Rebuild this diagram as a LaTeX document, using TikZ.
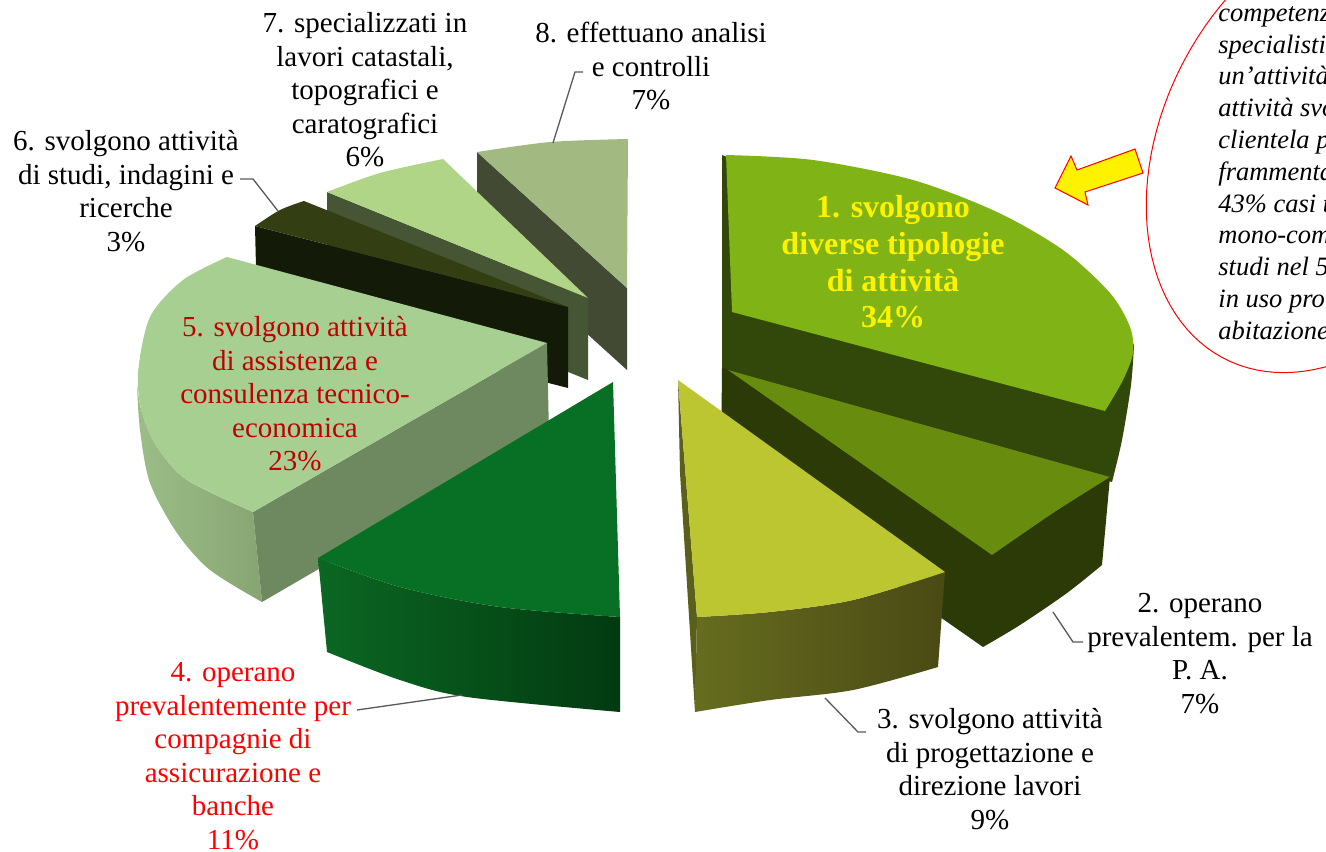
\documentclass[tikz,border=0pt]{standalone}
\usepackage{fontspec}
\setmainfont{Liberation Serif}
\definecolor{topA}{HTML}{7FB316}
\definecolor{wallA}{HTML}{31480A}
\definecolor{topB}{HTML}{688C0E}
\definecolor{wallB}{HTML}{2B3A07}
\definecolor{topC}{HTML}{BCC630}
\definecolor{edgeC}{HTML}{5A6019}
\definecolor{wallCl}{HTML}{666C1F}
\definecolor{wallCr}{HTML}{494A14}
\definecolor{topD}{HTML}{087024}
\definecolor{wallDl}{HTML}{0B6723}
\definecolor{wallDr}{HTML}{033A11}
\definecolor{topE}{HTML}{A8CF92}
\definecolor{sideE}{HTML}{6E8860}
\definecolor{wallEl}{HTML}{9CBD87}
\definecolor{wallEr}{HTML}{87A573}
\definecolor{topF}{HTML}{333F12}
\definecolor{wallF}{HTML}{141A08}
\definecolor{topG}{HTML}{B0D586}
\definecolor{wallG}{HTML}{465534}
\definecolor{topH}{HTML}{A3B982}
\definecolor{wallH}{HTML}{434A34}
\definecolor{leadgray}{HTML}{595959}
\definecolor{darkred}{HTML}{C00000}
\tikzset{
    lbl/.style = {
        align=center,
        anchor=north,
        inner sep=0pt,
        font=\fontsize{14.5pt}{16.75pt}\selectfont,
        },
    lbl big/.style = {
        lbl,
        text=yellow,
        font=\fontsize{16pt}{18.35pt}\selectfont\bfseries,
        },
    leader/.style = {
        draw=leadgray,
        line width=0.65pt,
        },
    wall shade/.style 2 args = {
        left color=#1,
        right color=#2,
        },
    callout/.style = {
        draw=red,
        line width=0.5pt,
        },
    note/.style = {
        align=left,
        anchor=north west,
        inner sep=0pt,
        font=\fontsize{13.25pt}{15.9pt}\selectfont\itshape,
        },
    yellow arrow/.style = {
        fill=yellow,
        draw=red,
        line width=0.5pt,
        },
}
\begin{document}
\begin{tikzpicture}[x=0.5pt, y=-0.5pt]
    \clip (0,0) rectangle (1326,851);

    % slice 8
    \fill[wallH] (477,152) -- (627,288) -- (627,370) -- (477,234) -- cycle;
    \fill[topH] (627,288) -- plot[smooth] coordinates {(477,152) (550,142) (628,139)} -- cycle;
    % slice 7
    \fill[wallG] (327,192) -- (588,298) -- (588,380) -- (327,274) -- cycle;
    \fill[topG] (588,298) -- plot[smooth] coordinates {(327,192) (380,173) (443,159)} -- cycle;
    % slice 6
    \fill[wallF] (255,226) -- (568,307) -- (568,388) -- (257,308) -- cycle;
    \fill[topF] (568,307) -- plot[smooth] coordinates {(255,226) (280,210) (304,201)} -- cycle;
    % slice 1
    \fill[wallA] (722,155) -- (722,372) -- (1112,482)
        -- plot[smooth] coordinates {(1112,482) (1122,440) (1131,385) (1134,345)} -- (1085,295) -- cycle;
    \fill[topA] (732,312) -- (1105,411)
        -- plot[smooth] coordinates {(1105,411) (1123,380) (1133,353) (1130,327) (1110,293) (1063,250)
            (997,212) (913,180) (813,160) (726,155)} -- cycle;
    % slice 5
    \shade[wall shade={wallEl}{wallEr}] plot[smooth] coordinates {(137,385) (142,413) (157,447) (187,480) (253,512)}
        -- (262,602) -- plot[smooth] coordinates {(262,602) (210,570) (177,533) (150,483) (140,430) (137,385)} -- cycle;
    \fill[sideE] (547,343) -- (253,512) -- (262,602) -- (549,435) -- cycle;
    \fill[topE] (547,343) -- plot[smooth] coordinates {(227,257) (183,280) (150,317) (138,373) (142,413)
        (157,447) (187,480) (253,512)} -- cycle;
    % slice 2
    \fill[wallB] (722,368) -- (721,464) -- (983,647)
        -- plot[smooth] coordinates {(983,647) (1020,625) (1067,593) (1102,565)} -- (1110,477) -- cycle;
    \fill[topB] (728,370) -- (1110,477) -- plot[smooth] coordinates {(1110,477) (1053,513) (992,555)} -- cycle;
    % slice 4
    \shade[wall shade={wallDl}{wallDr}] plot[smooth] coordinates {(318,558) (400,587) (500,607) (620,617)}
        -- (620,712) -- plot[smooth] coordinates {(620,712) (467,697) (400,680) (327,652)} -- cycle;
    \fill[topD] (613,382) -- plot[smooth] coordinates {(318,558) (400,587) (500,607) (620,617)} -- cycle;
    % slice 3
    \fill[edgeC] (678,380) -- (680,473) -- (695,712) -- (697,617) -- cycle;
    \shade[wall shade={wallCl}{wallCr}] plot[smooth] coordinates {(697,617) (770,612) (853,600) (945,572)}
        -- (938,667) -- plot[smooth] coordinates {(938,667) (853,690) (770,700) (695,712)} -- cycle;
    \fill[topC] (678,380) -- (945,572) -- plot[smooth] coordinates {(945,572) (853,600) (770,612) (697,617)} -- cycle;

    % labels
    \node[lbl big] (l1) at (893,195) {1. svolgono\\diverse tipologie\\di attività\\34\%};
    \node[lbl] (l2) at (1200,593) {2. operano\\prevalentem. per la\\P. A.\\7\%};
    \node[lbl] (l3) at (990,708) {3. svolgono attività\\di progettazione e\\direzione lavori\\9\%};
    \node[lbl, text=red] (l4) at (233,662) {4. operano\\prevalentemente per\\compagnie di\\assicurazione e\\banche\\11\%};
    \node[lbl, text=darkred] (l5) at (295,316) {5. svolgono attività\\di assistenza e\\consulenza tecnico-\\economica\\23\%};
    \node[lbl] (l6) at (126,130) {6. svolgono attività\\di studi, indagini e\\ricerche\\3\%};
    \node[lbl] (l7) at (365,12) {7. specializzati in\\lavori catastali,\\topografici e\\caratografici\\6\%};
    \node[lbl] (l8) at (651,22) {8. effettuano analisi\\e controlli\\7\%};

    % leaders
    \coordinate (s2) at (1053,612);
    \coordinate (e2) at (1083,642);
    \coordinate (s3) at (825,698);
    \coordinate (e3) at (866,732);
    \coordinate (s4) at (462,695);
    \coordinate (e4) at (357,710);
    \coordinate (s6) at (278,211);
    \coordinate (e6) at (240,179);
    \coordinate (s8) at (553,143);
    \coordinate (e8) at (583,72);
    \draw[leader] (s2) -- (1073,642) -- (e2);
    \draw[leader] (s3) -- (858,732) -- (e3);
    \draw[leader] (s4) -- (e4);
    \draw[leader] (s6) -- (253,179) -- (e6);
    \draw[leader] (s8) -- (575,72) -- (e8);

    % callout
    \draw[callout] plot[domain=0:360, samples=120, variable=\t]
        ({1334.9 + 172*cos(\t)*0.8902 - 242*sin(\t)*0.4555}, {143.4 + 172*cos(\t)*0.4555 + 242*sin(\t)*0.8902}) -- cycle;
    \node[note] (txt) at (1218,6) {competenz\\specialisti\\un’attività\\attività svo\\clientela p\\frammenta\\43\% casi t\\mono-com\\studi nel 5\\in uso pro\\abitazione};
    \draw[yellow arrow] (1055,188) -- (1071,156) -- (1077,170) -- (1135,149) -- (1143,173) -- (1085,192)
        -- (1088,205) -- cycle;
\end{tikzpicture}
\end{document}
